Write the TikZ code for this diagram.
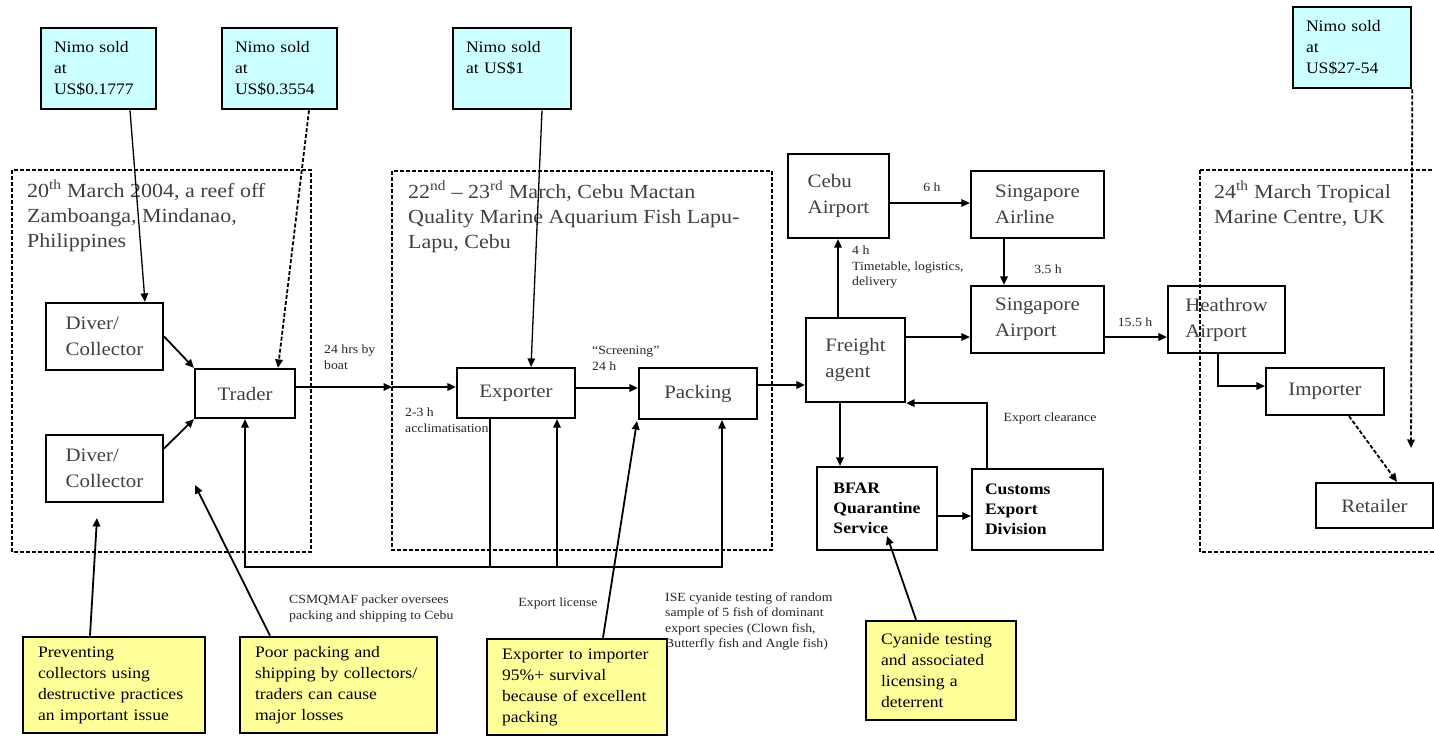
\documentclass[tikz,border=0pt]{standalone}
\usepackage{fontspec}
\setmainfont{Liberation Serif}[FakeStretch=1.1]
\usepackage{tikz}
\usetikzlibrary{arrows.meta,calc,positioning}
\definecolor{pricecyan}{HTML}{CCFFFF}
\definecolor{noteyellow}{HTML}{FFFF99}
\tikzset{>={Triangle[width=7.5pt,length=8.5pt]}}

\begin{document}
\begin{tikzpicture}[x=1pt, y=-1pt]
      \tikzstyle{flowbox} = [draw, line width=2.2pt, inner sep=0pt, align=left, text=black!75, font=\fontsize{19}{26}\selectfont]
      \tikzstyle{boldbox} = [flowbox, text=black, font=\fontsize{16}{20}\selectfont\bfseries]
      \tikzstyle{pricebox} = [draw, line width=2.6pt, fill=pricecyan, inner xsep=13pt, inner ysep=6pt, align=left, font=\fontsize{16}{21}\selectfont]
      \tikzstyle{notebox} = [draw, line width=2.6pt, fill=noteyellow, inner xsep=15pt, inner ysep=6pt, align=left, font=\fontsize{16}{21}\selectfont]
      \tikzstyle{zone} = [line width=2pt, dash pattern=on 4pt off 2pt]
      \tikzstyle{zonetxt} = [anchor=north west, inner sep=0pt, align=left, text=black!75, font=\fontsize{20}{25}\selectfont]
      \tikzstyle{smalltxt} = [inner sep=0pt, align=left, text=black!85, font=\fontsize{12.5}{15.5}\selectfont]
      \tikzstyle{flow} = [->, line width=1.8pt]
      \tikzstyle{thinflow} = [->, line width=1.3pt]
      \tikzstyle{dashflow} = [->, line width=1.8pt, dash pattern=on 4pt off 2pt]

      \useasboundingbox (0,0) rectangle (1434,736);

      % places
      \draw[zone] (12,170) rectangle (311,552);
      \draw[zone] (392,171) rectangle (772,550);
      \draw[zone] (1200,170) rectangle (1450,552);
      \node[zonetxt] (zoneA) at (27,180) {20\textsuperscript{th} March 2004, a reef off\\Zamboanga, Mindanao,\\Philippines};
      \node[zonetxt] (zoneB) at (408,181) {22\textsuperscript{nd} -- 23\textsuperscript{rd} March, Cebu Mactan\\Quality Marine Aquarium Fish Lapu-\\Lapu, Cebu};
      \node[zonetxt] (zoneC) at (1214,181) {24\textsuperscript{th} March Tropical\\Marine Centre, UK};

      % prices
      \node[pricebox, text width=89pt, minimum height=81pt] (nimoA) at (98.5,68.5) {Nimo sold\\at\\US\$0.1777};
      \node[pricebox, text width=89pt, minimum height=81pt] (nimoB) at (279.5,68.5) {Nimo sold\\at\\US\$0.3554};
      \node[pricebox, text width=92pt, text height=18pt, text depth=51pt] (nimoC) at (512,68.5) {Nimo sold\\at US\$1};
      \node[pricebox, text width=92pt, minimum height=81pt] (nimoD) at (1352,47.5) {Nimo sold\\at\\US\$27-54};

      % chain
      \node[flowbox, minimum width=117pt, minimum height=67pt] (diverA) at (104.5,336.5) {Diver/\\Collector};
      \node[flowbox, minimum width=117pt, minimum height=67pt] (diverB) at (104.5,468.5) {Diver/\\Collector};
      \node[flowbox, minimum width=100pt, minimum height=49pt] (trader) at (245,393.5) {Trader};
      \node[flowbox, minimum width=118pt, minimum height=50pt] (exporter) at (516,393) {Exporter};
      \node[flowbox, minimum width=118pt, minimum height=51pt] (packing) at (698,393.5) {Packing};
      \node[flowbox, minimum width=99pt, minimum height=84pt] (freight) at (855.5,360) {Freight\\agent};
      \node[flowbox, minimum width=101pt, minimum height=84pt] (cebu) at (838.5,196) {Cebu\\Airport};
      \node[flowbox, minimum width=133pt, minimum height=67pt] (sgAirline) at (1037.5,204.5) {Singapore\\Airline};
      \node[flowbox, minimum width=133pt, minimum height=67pt] (sgAirport) at (1037.5,319.5) {Singapore\\Airport};
      \node[flowbox, minimum width=117pt, minimum height=67pt] (heathrow) at (1226.5,319.5) {Heathrow\\Airport};
      \node[flowbox, minimum width=118pt, minimum height=47pt] (importer) at (1325,391.5) {Importer};
      \node[flowbox, minimum width=117pt, minimum height=45pt] (retailer) at (1374.5,505.5) {Retailer};
      \node[boldbox, minimum width=120pt, minimum height=83pt] (bfar) at (877,508.5) {BFAR\\Quarantine\\Service};
      \node[boldbox, minimum width=131pt, minimum height=81pt, text width=105pt] (customs) at (1037.5,509.5) {Customs\\Export\\Division};

      % notes
      \node[notebox, text width=152pt, minimum height=96pt] (noteA) at (114,685) {Preventing\\collectors using\\destructive practices\\an important issue};
      \node[notebox, text width=167pt, minimum height=96pt] (noteB) at (338.5,685) {Poor packing and\\shipping by collectors/\\traders can cause\\major losses};
      \node[notebox, text width=150pt, minimum height=96pt] (noteC) at (577,687) {Exporter to importer\\95\%+ survival\\because of excellent\\packing};
      \node[notebox, text width=120pt, minimum height=99pt] (noteD) at (941,670.5) {Cyanide testing\\and associated\\licensing a\\deterrent};

      % prices to the chain
      \draw[thinflow] ([xshift=31.5pt]nimoA.south) -- ([xshift=40.5pt]diverA.north);
      \draw[dashflow] ([xshift=29.5pt]nimoB.south) -- ([xshift=33pt]trader.north);
      \draw[thinflow] ([xshift=30pt]nimoC.south) -- ([xshift=15pt]exporter.north);
      \coordinate (sellD) at (1411,448);
      \draw[dashflow] (nimoD.south east) -- (sellD);

      % main chain
      \draw[flow] (diverA.east) -- (trader.north west);
      \draw[flow] ([yshift=20pt]diverB.east) -- (trader.south west);
      \coordinate (gateA) at (392,387);
      \draw[flow] ([yshift=6.5pt]trader.east) -- (gateA);
      \draw[flow] (gateA) -- (gateA -| exporter.west);
      \draw[flow] ([yshift=5pt]exporter.east) -- ([yshift=5pt]exporter.east -| packing.west);
      \draw[flow] ([yshift=8.5pt]packing.east) -- ([yshift=8.5pt]packing.east -| freight.west);
      \draw[thinflow] ([xshift=-17.5pt]freight.north) -- ([xshift=-17.5pt]freight.north |- cebu.south);
      \draw[thinflow] ([yshift=-7pt]cebu.east) -- ([yshift=-7pt]cebu.east -| sgAirline.west);
      \draw[flow] ([xshift=-33.5pt]sgAirline.south) -- ([xshift=-33.5pt]sgAirport.north);
      \draw[thinflow] ([yshift=23pt]freight.east) -- ([yshift=23pt]freight.east -| sgAirport.west);
      \draw[flow] ([yshift=-17.5pt]sgAirport.east) -- ([yshift=-17.5pt]sgAirport.east -| heathrow.west);
      \draw[thinflow] ([xshift=-8.5pt]heathrow.south) |- ([yshift=5.5pt]importer.west);
      \draw[dashflow] ([xshift=24pt]importer.south) -- ([xshift=22.5pt]retailer.north);
      \draw[thinflow] ([xshift=-15.5pt]freight.south) -- ([xshift=-15.5pt]freight.south |- bfar.north);
      \draw[thinflow] ([yshift=-7.5pt]bfar.east) -- ([yshift=-7.5pt]bfar.east -| customs.west);
      \draw[flow] ([xshift=-50.5pt]customs.north) |- (freight.south east);

      % rails below Cebu
      \coordinate (railL) at (245,567);
      \coordinate (railM) at (490,567);
      \draw[thinflow] ([xshift=-26pt]exporter.south) -- (railM) -- (railL) -- (trader.south);
      \draw[thinflow] (railM) -| ([xshift=41pt]exporter.south);
      \draw[thinflow] (railM) -| ([xshift=24pt]packing.south);

      % notes to the chain
      \coordinate (hintA) at (97,518);
      \coordinate (hintB) at (195,485);
      \coordinate (hintC) at (637,421);
      \coordinate (hintD) at (887,536);
      \draw[flow] ([xshift=-24pt]noteA.north) -- (hintA);
      \draw[flow] ([xshift=-68.5pt]noteB.north) -- (hintB);
      \draw[flow] ([xshift=26pt]noteC.north) -- (hintC);
      \draw[flow] ([xshift=-25pt]noteD.north) -- (hintD);

      % small labels
      \node[smalltxt, anchor=north west] (boatTxt) at (324,345) {24 hrs by\\boat};
      \node[smalltxt, anchor=north west] (acclTxt) at (405,408) {2-3 h\\acclimatisation};
      \node[smalltxt, anchor=north west] (screenTxt) at (592,346) {“Screening”\\24 h};
      \node[smalltxt] (sixTxt) at (932,187) {6 h};
      \node[smalltxt, anchor=north west] (fourTxt) at (852,246) {4 h\\Timetable, logistics,\\delivery};
      \node[smalltxt] (sgTxt) at (1048,269) {3.5 h};
      \node[smalltxt] (lhrTxt) at (1135,322) {15.5 h};
      \node[smalltxt] (clearTxt) at (1050,418) {Export clearance};
      \node[smalltxt, anchor=north west] (packerTxt) at (289,595) {CSMQMAF packer oversees\\packing and shipping to Cebu};
      \node[smalltxt] (licTxt) at (558,603) {Export license};
      \node[smalltxt, anchor=north west] (iseTxt) at (665,592) {ISE cyanide testing of random\\sample of 5 fish of dominant\\export species (Clown fish,\\Butterfly fish and Angle fish)};
\end{tikzpicture}
\end{document}
